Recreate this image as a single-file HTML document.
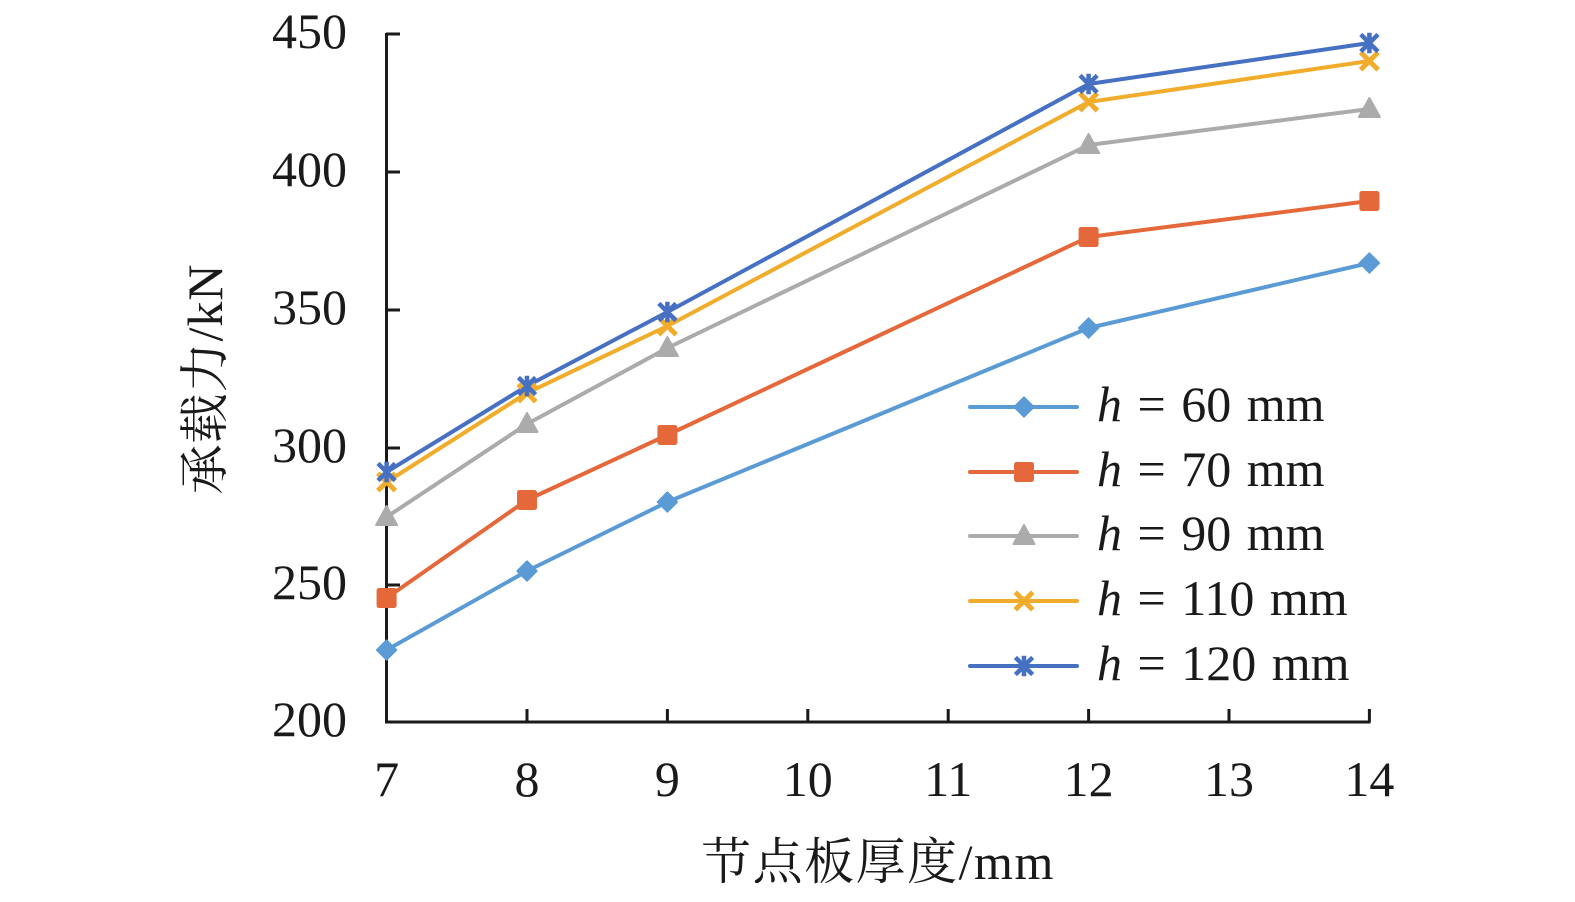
<!DOCTYPE html>
<html>
<head>
<meta charset="utf-8">
<style>
  html,body{margin:0;padding:0;background:#fff;}
  svg{display:block;}
  .t{font-family:"Liberation Serif","Noto Serif CJK SC",serif;font-size:50px;fill:#1a1a1a;}
  .c{font-family:"Liberation Serif","Noto Serif CJK SC","Noto Sans CJK SC",serif;font-size:50px;fill:#1a1a1a;}
  .lg{word-spacing:3px;}
</style>
</head>
<body>
<svg width="1575" height="902" viewBox="0 0 1575 902" xmlns="http://www.w3.org/2000/svg">
  <rect width="1575" height="902" fill="#fff"/>

  <!-- axes -->
  <g stroke="#1a1a1a" stroke-width="3" fill="none">
    <line x1="386.5" y1="33" x2="386.5" y2="723.5"/>
    <line x1="385" y1="722" x2="1370.5" y2="722"/>
    <line x1="386" y1="34" x2="400" y2="34"/>
    <line x1="386" y1="172" x2="400" y2="172"/>
    <line x1="386" y1="310" x2="400" y2="310"/>
    <line x1="386" y1="448" x2="400" y2="448"/>
    <line x1="386" y1="585" x2="400" y2="585"/>
    <line x1="527" y1="722" x2="527" y2="709"/>
    <line x1="667.4" y1="722" x2="667.4" y2="709"/>
    <line x1="807.8" y1="722" x2="807.8" y2="709"/>
    <line x1="948.2" y1="722" x2="948.2" y2="709"/>
    <line x1="1088.6" y1="722" x2="1088.6" y2="709"/>
    <line x1="1229" y1="722" x2="1229" y2="709"/>
    <line x1="1369.4" y1="722" x2="1369.4" y2="709"/>
  </g>

  <!-- y tick labels -->
  <g class="t" text-anchor="end">
    <text x="347" y="48">450</text>
    <text x="347" y="186">400</text>
    <text x="347" y="324">350</text>
    <text x="347" y="462">300</text>
    <text x="347" y="599">250</text>
    <text x="347" y="736">200</text>
  </g>

  <!-- x tick labels -->
  <g class="t" text-anchor="middle">
    <text x="386.6" y="796">7</text>
    <text x="527" y="796">8</text>
    <text x="667.4" y="796">9</text>
    <text x="807.8" y="796">10</text>
    <text x="948.2" y="796">11</text>
    <text x="1088.6" y="796">12</text>
    <text x="1229" y="796">13</text>
    <text x="1369.4" y="796">14</text>
  </g>

  <!-- axis titles -->
  <text class="c" x="878" y="879" text-anchor="middle" letter-spacing="1.5">节点板厚度/mm</text>
  <text class="c" transform="translate(222,379) rotate(-90)" text-anchor="middle" letter-spacing="1">承载力/kN</text>

  <defs>
    <g id="mDia"><polygon points="0,-10 10,0 0,10 -10,0" fill="#5B9BD5" stroke="#5B9BD5" stroke-width="1.5" stroke-linejoin="round"/></g>
    <g id="mSq"><rect x="-10" y="-10" width="20" height="20" rx="2.5" fill="#E4683A"/></g>
    <g id="mTri"><polygon points="0,-11 10.5,8 -10.5,8" fill="#ABABAB" stroke="#ABABAB" stroke-width="2" stroke-linejoin="round"/></g>
    <g id="mX"><path d="M-7,-7 L7,7 M7,-7 L-7,7" stroke="#F0AC2A" stroke-width="5" stroke-linecap="square" fill="none"/></g>
    <g id="mSt"><path d="M-7,-7 L7,7 M7,-7 L-7,7 M0,-8 L0,8" stroke="#4670C2" stroke-width="4.5" stroke-linecap="square" fill="none"/></g>
  </defs>

  <!-- series -->
  <g fill="none" stroke-width="4" stroke-linejoin="round" stroke-linecap="round">
    <polyline stroke="#5B9BD5" points="386.6,650 527,571 667.4,502 1088.6,328 1369.4,263"/>
    <polyline stroke="#E4683A" points="386.6,598 527,500 667.4,435 1088.6,237 1369.4,201"/>
    <polyline stroke="#ABABAB" points="386.6,517 527,424 667.4,348 1088.6,145 1369.4,109"/>
    <polyline stroke="#F0AC2A" points="386.6,482 527,393 667.4,326 1088.6,102 1369.4,61"/>
    <polyline stroke="#4670C2" points="386.6,472 527,386 667.4,312 1088.6,84 1369.4,43"/>
  </g>

  <g>
    <use href="#mDia" x="386.6" y="650"/><use href="#mDia" x="527" y="571"/><use href="#mDia" x="667.4" y="502"/><use href="#mDia" x="1088.6" y="328"/><use href="#mDia" x="1369.4" y="263"/>
    <use href="#mSq" x="386.6" y="598"/><use href="#mSq" x="527" y="500"/><use href="#mSq" x="667.4" y="435"/><use href="#mSq" x="1088.6" y="237"/><use href="#mSq" x="1369.4" y="201"/>
    <use href="#mTri" x="386.6" y="517"/><use href="#mTri" x="527" y="424"/><use href="#mTri" x="667.4" y="348"/><use href="#mTri" x="1088.6" y="145"/><use href="#mTri" x="1369.4" y="109"/>
    <use href="#mX" x="386.6" y="482"/><use href="#mX" x="527" y="393"/><use href="#mX" x="667.4" y="326"/><use href="#mX" x="1088.6" y="102"/><use href="#mX" x="1369.4" y="61"/>
    <use href="#mSt" x="386.6" y="472"/><use href="#mSt" x="527" y="386"/><use href="#mSt" x="667.4" y="312"/><use href="#mSt" x="1088.6" y="84"/><use href="#mSt" x="1369.4" y="43"/>
  </g>

  <!-- legend -->
  <g fill="none" stroke-width="4" stroke-linecap="round">
    <line x1="970" y1="407" x2="1077" y2="407" stroke="#5B9BD5"/>
    <line x1="970" y1="472" x2="1077" y2="472" stroke="#E4683A"/>
    <line x1="970" y1="536" x2="1077" y2="536" stroke="#ABABAB"/>
    <line x1="970" y1="601" x2="1077" y2="601" stroke="#F0AC2A"/>
    <line x1="970" y1="666" x2="1077" y2="666" stroke="#4670C2"/>
  </g>
  <use href="#mDia" x="1024" y="407"/>
  <use href="#mSq" x="1024" y="472"/>
  <use href="#mTri" x="1024" y="536"/>
  <use href="#mX" x="1024" y="601"/>
  <use href="#mSt" x="1024" y="666"/>

  <g class="t lg">
    <text x="1097" y="421" xml:space="preserve"><tspan font-style="italic">h</tspan> = 60 mm</text>
    <text x="1097" y="486" xml:space="preserve"><tspan font-style="italic">h</tspan> = 70 mm</text>
    <text x="1097" y="550" xml:space="preserve"><tspan font-style="italic">h</tspan> = 90 mm</text>
    <text x="1097" y="615" xml:space="preserve"><tspan font-style="italic">h</tspan> = 110 mm</text>
    <text x="1097" y="680" xml:space="preserve"><tspan font-style="italic">h</tspan> = 120 mm</text>
  </g>
</svg>
</body>
</html>
